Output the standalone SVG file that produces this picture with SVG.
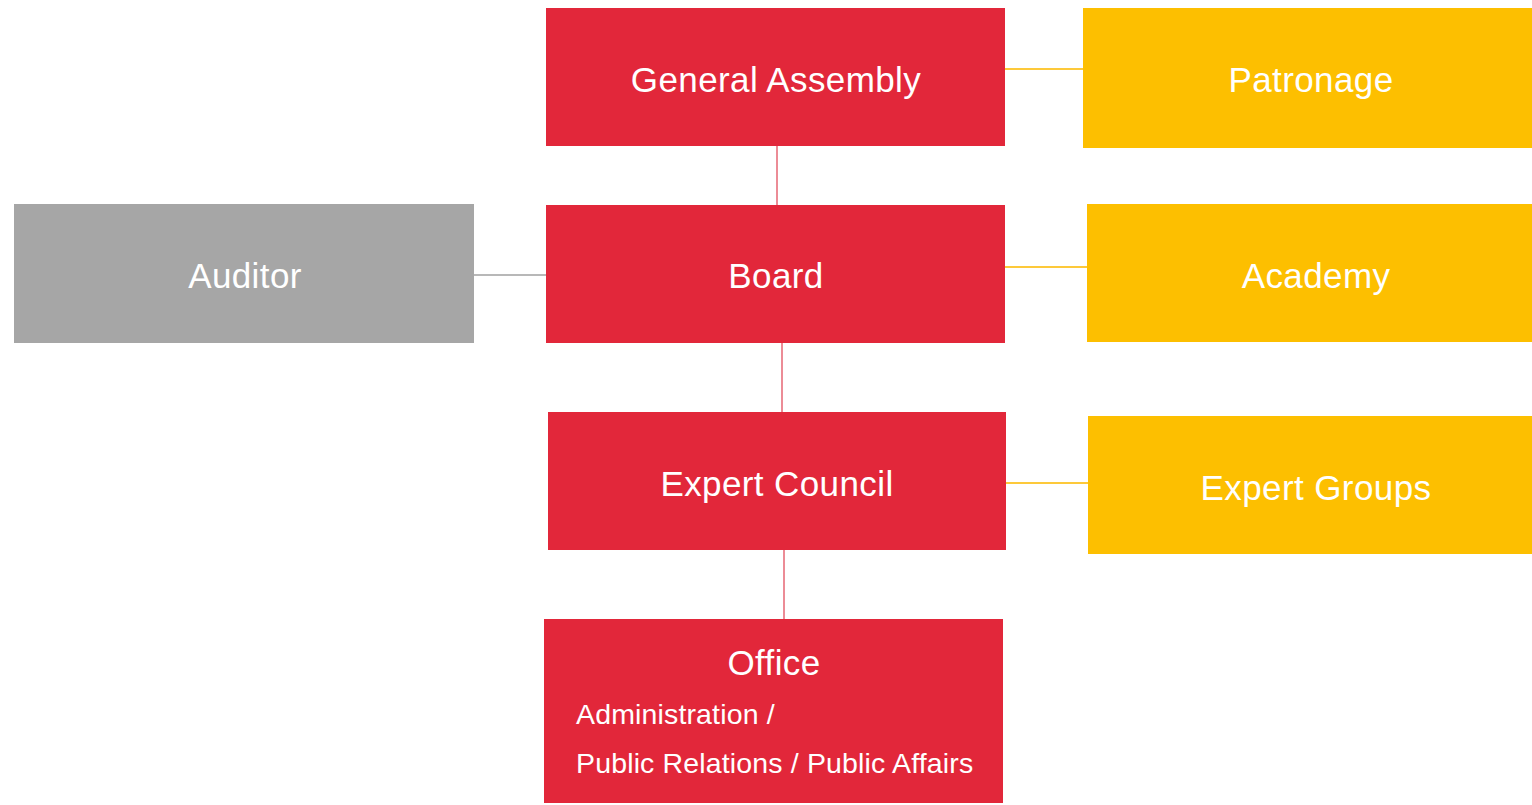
<svg xmlns="http://www.w3.org/2000/svg" width="1532" height="805" viewBox="0 0 1532 805">
<style>
.red{fill:#e2273a}
.yel{fill:#fdbf00}
.gry{fill:#a6a6a6}
.t{font-family:"Liberation Sans",Arial,sans-serif;font-size:35px;fill:#ffffff;text-anchor:middle;letter-spacing:0.4px}
.s{font-family:"Liberation Sans",Arial,sans-serif;font-size:28.5px;fill:#ffffff;letter-spacing:0.15px}
.cr{stroke:#ec8c96;stroke-width:2;fill:none}
.cy{stroke:#fdc93a;stroke-width:2;fill:none}
.cg{stroke:#b8b8b8;stroke-width:2;fill:none}
</style>
<rect width="1532" height="805" fill="#ffffff"/>
<g id="connectors">
<line class="cr" x1="777" y1="146" x2="777" y2="205"/>
<line class="cr" x1="782" y1="343" x2="782" y2="412"/>
<line class="cr" x1="784" y1="550" x2="784" y2="619"/>
<line class="cy" x1="1005" y1="69" x2="1083" y2="69"/>
<line class="cy" x1="1005" y1="267" x2="1087" y2="267"/>
<line class="cy" x1="1006" y1="483" x2="1088" y2="483"/>
<line class="cg" x1="474" y1="275" x2="546" y2="275"/>
</g>
<g id="general-assembly">
<rect class="red" x="546" y="8" width="459" height="138"/>
<text class="t" x="776" y="92">General Assembly</text>
</g>
<g id="patronage">
<rect class="yel" x="1083" y="8" width="449" height="140"/>
<text class="t" x="1311" y="92">Patronage</text>
</g>
<g id="board">
<rect class="red" x="546" y="205" width="459" height="138"/>
<text class="t" x="776" y="288">Board</text>
</g>
<g id="auditor">
<rect class="gry" x="14" y="204" width="460" height="139"/>
<text class="t" x="245" y="288">Auditor</text>
</g>
<g id="academy">
<rect class="yel" x="1087" y="204" width="445" height="138"/>
<text class="t" x="1316" y="288">Academy</text>
</g>
<g id="expert-council">
<rect class="red" x="548" y="412" width="458" height="138"/>
<text class="t" x="777" y="496">Expert Council</text>
</g>
<g id="expert-groups">
<rect class="yel" x="1088" y="416" width="444" height="138"/>
<text class="t" x="1316" y="500">Expert Groups</text>
</g>
<g id="office">
<rect class="red" x="544" y="619" width="459" height="184"/>
<text class="t" x="774" y="675">Office</text>
<text class="s" x="576" y="724">Administration /</text>
<text class="s" x="576" y="773">Public Relations / Public Affairs</text>
</g>
</svg>
